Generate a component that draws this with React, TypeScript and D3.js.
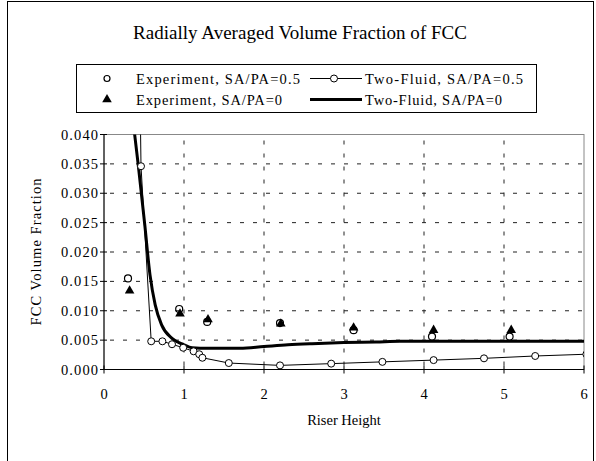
import React from "react";
import * as d3 from "d3";

const expHalfX = [0.30, 0.94, 1.29, 2.20, 3.12, 4.10, 5.07];
const expHalfY = [0.0155, 0.0103, 0.0081, 0.0079, 0.0067, 0.0056, 0.0056];

const expZeroX = [0.32, 0.95, 1.30, 2.21, 3.12, 4.12, 5.09];
const expZeroY = [0.0134, 0.0095, 0.0085, 0.0078, 0.0071, 0.0067, 0.0067];

const tfHalfX = [0.40, 0.4625, 0.59, 0.73, 0.85, 0.99, 1.12, 1.19, 1.23, 1.56, 2.20, 2.84, 3.48, 4.12, 4.75, 5.39, 6.03];
const tfHalfY = [0.10, 0.0346, 0.0048, 0.0048, 0.0043, 0.0037, 0.0031, 0.0026, 0.0020, 0.0011, 0.0007, 0.0010, 0.0013, 0.0016, 0.0019, 0.0023, 0.0026];

const tfZeroX = [0.34, 0.43, 0.51, 0.575, 0.64, 0.72, 0.85, 1.0, 1.1, 1.3, 1.5, 1.7, 2.0, 2.3, 2.6, 3.0, 3.4, 3.7, 4.0, 5.0, 6.0];
const tfZeroY = [0.045, 0.0346, 0.0246, 0.0161, 0.011, 0.0076, 0.0053, 0.0042, 0.0037, 0.0036, 0.0036, 0.0036, 0.0039, 0.0042, 0.0044, 0.0046, 0.0047, 0.0048, 0.0048, 0.0048, 0.0048];

const xTicks = [0, 1, 2, 3, 4, 5, 6];
const yTicks = [0, 0.005, 0.01, 0.015, 0.02, 0.025, 0.03, 0.035, 0.04];

const titleText = "Radially Averaged Volume Fraction of FCC";
const xLabel = "Riser Height";
const yLabel = "FCC Volume Fraction";
const legendLabels = [
  "Experiment, SA/PA=0.5",
  "Experiment, SA/PA=0",
  "Two-Fluid, SA/PA=0.5",
  "Two-Fluid, SA/PA=0",
];

const FONT = "'Liberation Serif', 'Times New Roman', serif";

export default function App() {
  const W = 596, H = 461;
  const left = 104, right = 584, top = 134.5, bottom = 369.5;
  const x = d3.scaleLinear().domain([0, 6]).range([left, right]);
  const y = d3.scaleLinear().domain([0, 0.04]).range([bottom, top]);

  const lineThin = d3.line<number>().x((_, i) => x(tfHalfX[i])).y((d) => y(d));
  const lineThick = d3
    .line<number>()
    .x((_, i) => x(tfZeroX[i]))
    .y((d) => y(d))
    .curve(d3.curveMonotoneX);

  const tri = d3.symbol().type(d3.symbolTriangle).size(40)();

  return (
    <svg
      width={W}
      height={H}
      style={{ position: "absolute", left: 0, top: 0, background: "#fff" }}
      fontFamily={FONT}
    >
      <defs>
        <clipPath id="plotclip">
          <rect x={left} y={top} width={right - left} height={bottom - top} />
        </clipPath>
      </defs>
      <rect x={7.5} y={1.5} width={586} height={470} fill="#fff" stroke="#000" strokeWidth={1} />

      <text x={300} y={39} textAnchor="middle" fontSize={19} textLength={334} lengthAdjust="spacing">
        {titleText}
      </text>

      {/* plot frame */}
      <rect x={left} y={top} width={right - left} height={bottom - top} fill="none" stroke="#888" strokeWidth={1} />

      {/* gridlines */}
      {yTicks.slice(1, -1).map((t) => (
        <line key={"gy" + t} x1={left} x2={right} y1={y(t)} y2={y(t)} stroke="#222" strokeWidth={1} strokeDasharray="4,9" strokeDashoffset={-6} />
      ))}
      {xTicks.slice(1, -1).map((t) => (
        <line key={"gx" + t} x1={x(t)} x2={x(t)} y1={top} y2={bottom} stroke="#222" strokeWidth={1} strokeDasharray="4,9" strokeDashoffset={-6} />
      ))}

      {/* axes */}
      <line x1={left} x2={left} y1={top} y2={bottom} stroke="#000" />
      <line x1={left} x2={right} y1={bottom} y2={bottom} stroke="#000" />
      {yTicks.map((t) => (
        <g key={"yt" + t}>
          <line x1={left - 4} x2={left + 3} y1={y(t)} y2={y(t)} stroke="#000" />
          <text x={left - 6} y={y(t) + 5} textAnchor="end" fontSize={14.5} textLength={37} lengthAdjust="spacing">
            {d3.format(".3f")(t)}
          </text>
        </g>
      ))}
      {xTicks.map((t) => (
        <g key={"xt" + t}>
          <line x1={x(t)} x2={x(t)} y1={bottom - 4} y2={bottom + 4} stroke="#000" />
          <text x={x(t)} y={y(0) + 29} textAnchor="middle" fontSize={14.5}>
            {t}
          </text>
        </g>
      ))}
      <text x={(left + right) / 2} y={425} textAnchor="middle" fontSize={14.5}>
        {xLabel}
      </text>
      <text transform={`translate(41,${(top + bottom) / 2}) rotate(-90)`} textAnchor="middle" fontSize={14.5} textLength={147} lengthAdjust="spacing">
        {yLabel}
      </text>

      <g clipPath="url(#plotclip)">
        <path d={lineThick(tfZeroY) || ""} fill="none" stroke="#000" strokeWidth={3} />
        <path d={lineThin(tfHalfY) || ""} fill="none" stroke="#000" strokeWidth={1} />
        {tfHalfY.map((v, i) => (
          <circle key={"tf" + i} cx={x(tfHalfX[i])} cy={y(v)} r={3.5} fill="#fff" stroke="#000" strokeWidth={1} />
        ))}
        {expZeroY.map((v, i) => (
          <path key={"ez" + i} d={tri || ""} transform={`translate(${x(expZeroX[i])},${y(v)})`} fill="#000" />
        ))}
        {expHalfY.map((v, i) => (
          <circle key={"eh" + i} cx={x(expHalfX[i])} cy={y(v)} r={3.5} fill="none" stroke="#000" strokeWidth={1.2} />
        ))}
      </g>

      {/* legend */}
      <rect x={76.5} y={64.5} width={460} height={48} fill="#fff" stroke="#000" strokeWidth={1} />
      <circle cx={107} cy={78.5} r={3} fill="#fff" stroke="#000" strokeWidth={1.2} />
      <path d={tri || ""} transform={`translate(107,99.5)`} fill="#000" />
      <text x={136} y={83.5} fontSize={14.5} textLength={164} lengthAdjust="spacing">
        {legendLabels[0]}
      </text>
      <text x={136} y={104.5} fontSize={14.5} textLength={146} lengthAdjust="spacing">
        {legendLabels[1]}
      </text>
      <line x1={310} x2={362} y1={78.5} y2={78.5} stroke="#000" strokeWidth={1} />
      <circle cx={334} cy={78.5} r={3.5} fill="#fff" stroke="#000" strokeWidth={1} />
      <line x1={310} x2={362} y1={99.5} y2={99.5} stroke="#000" strokeWidth={3} />
      <text x={365} y={83.5} fontSize={14.5} textLength={158} lengthAdjust="spacing">
        {legendLabels[2]}
      </text>
      <text x={365} y={104.5} fontSize={14.5} textLength={137} lengthAdjust="spacing">
        {legendLabels[3]}
      </text>
    </svg>
  );
}
